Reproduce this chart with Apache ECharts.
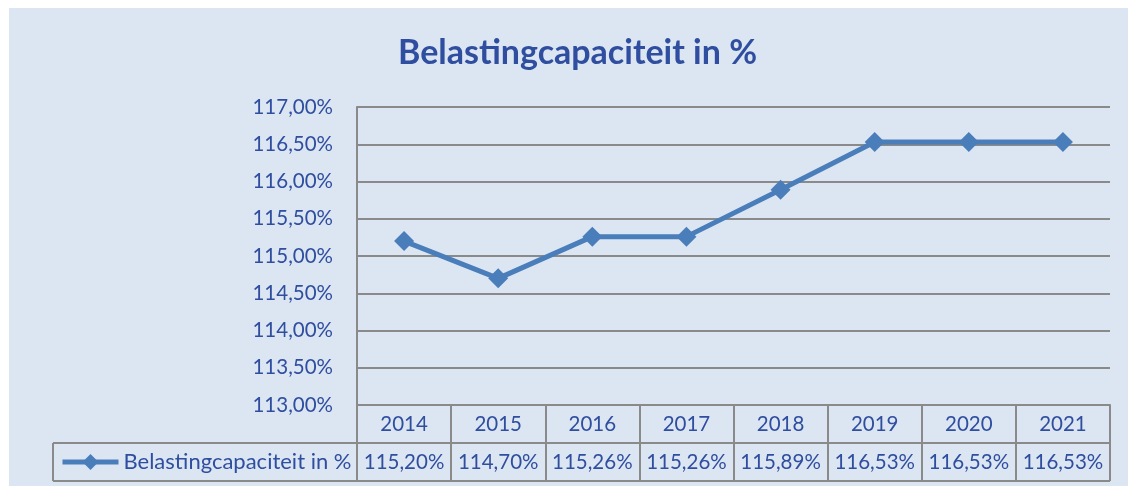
<!DOCTYPE html>
<html>
<head>
<meta charset="utf-8">
<script src="https://cdn.jsdelivr.net/npm/echarts@6/dist/echarts.min.js"></script>
<style>
  html, body { margin: 0; padding: 0; background: #fff; }
  #main { position: absolute; left: 9px; top: 8px; width: 1119px; height: 478px; }
</style>
</head>
<body>
<div id="main"></div>
<script>
var years = ['2014', '2015', '2016', '2017', '2018', '2019', '2020', '2021'];
var capaciteit = [115.20, 114.70, 115.26, 115.26, 115.89, 116.53, 116.53, 116.53];
var seriesName = 'Belastingcapaciteit in %';

var textBlue = '#2f4e9f';
var gridGray = '#8a8a8a';

function pct(v) {
    return v.toFixed(2).replace('.', ',') + '%';
}

var chart = echarts.init(document.getElementById('main'));

var option = {
    backgroundColor: '#dce6f2',
    textStyle: { fontFamily: 'Lato' },
    title: {
        text: 'Belastingcapaciteit in %',
        left: 384,
        top: 23,
        textStyle: { color: textBlue, fontSize: 34, fontWeight: 'bold', fontFamily: 'Lato' }
    },
    legend: {
        left: 51,
        top: 443,
        padding: 0,
        itemWidth: 56,
        itemHeight: 20,
        itemGap: 4,
        lineStyle: { width: 5 },
        textStyle: { color: textBlue, fontSize: 22, fontFamily: 'Lato', padding: [0, 0, 0, 0] },
        data: [seriesName]
    },
    grid: { left: 348, right: 18, top: 99, bottom: 81 },
    xAxis: {
        type: 'category',
        data: years,
        boundaryGap: true,
        axisLine: { show: true, lineStyle: { color: gridGray, width: 2 } },
        axisTick: { show: true, interval: 0, length: 76, lineStyle: { color: gridGray, width: 2 } },
        axisLabel: {
            interval: 0,
            margin: 0,
            formatter: function (val, idx) {
                return '{a|' + val + '}\n{b|' + pct(capaciteit[idx]) + '}';
            },
            rich: {
                a: { color: textBlue, fontSize: 20.5, lineHeight: 38, fontFamily: 'Lato' },
                b: { color: textBlue, fontSize: 20.5, lineHeight: 38, fontFamily: 'Lato' }
            }
        }
    },
    yAxis: {
        type: 'value',
        min: 113,
        max: 117,
        interval: 0.5,
        axisLine: { show: true, lineStyle: { color: gridGray, width: 2 } },
        axisTick: { show: false },
        axisLabel: { color: textBlue, fontSize: 20.5, margin: 24, formatter: pct, fontFamily: 'Lato' },
        splitLine: { show: true, lineStyle: { color: gridGray, width: 2 } }
    },
    graphic: [
        { type: 'line', shape: { x1: 44, y1: 435, x2: 1101, y2: 435 }, style: { stroke: gridGray, lineWidth: 2 } },
        { type: 'line', shape: { x1: 44, y1: 473, x2: 1101, y2: 473 }, style: { stroke: gridGray, lineWidth: 2 } },
        { type: 'line', shape: { x1: 44, y1: 435, x2: 44, y2: 473 }, style: { stroke: gridGray, lineWidth: 2 } }
    ],
    series: [{
        name: seriesName,
        type: 'line',
        data: capaciteit,
        symbol: 'diamond',
        symbolSize: 20,
        lineStyle: { color: '#4a7ebb', width: 5 },
        itemStyle: { color: '#4a7ebb' },
        animation: false
    }]
};
chart.setOption(option);
</script>
</body>
</html>
